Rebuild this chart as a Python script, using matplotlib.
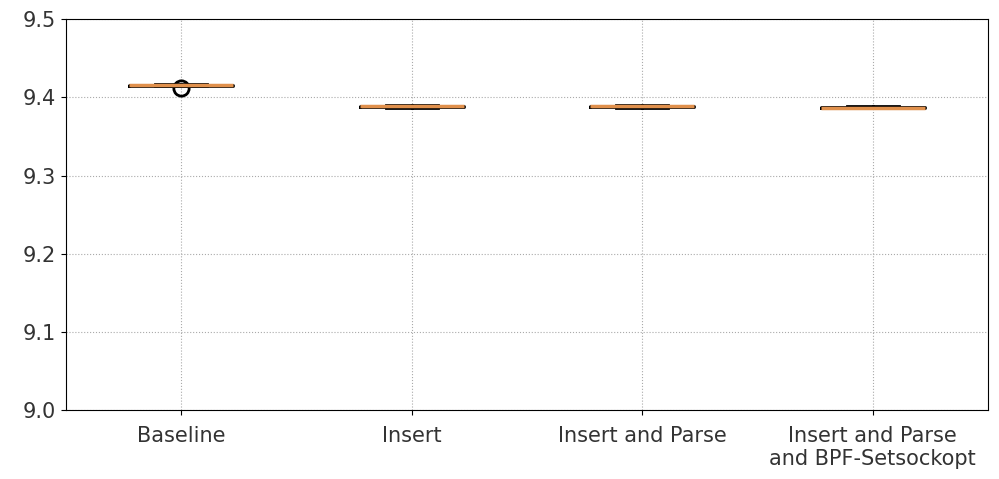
import matplotlib
matplotlib.use("Agg")
import matplotlib.pyplot as plt

labels = ["Baseline", "Insert", "Insert and Parse", "Insert and Parse\nand BPF-Setsockopt"]

baseline = [9.4140, 9.4150, 9.4158, 9.4162, 9.4165, 9.4168, 9.4115]
insert = [9.3860, 9.3875, 9.3885, 9.3890, 9.3893, 9.3896]
insert_parse = [9.3860, 9.3875, 9.3885, 9.3890, 9.3893, 9.3896]
insert_parse_bpf = [9.3860, 9.3862, 9.3864, 9.3865, 9.3868, 9.3878, 9.3886]

data = [baseline, insert, insert_parse, insert_parse_bpf]

fig = plt.figure(figsize=(9.99, 4.79), dpi=100)
ax = fig.add_axes([0.066, 0.144, 0.923, 0.816])

ax.boxplot(data, widths=0.45,
           boxprops=dict(linewidth=2),
           whiskerprops=dict(linewidth=2),
           capprops=dict(linewidth=2),
           medianprops=dict(linewidth=2.5, color="#e0904c"),
           flierprops=dict(marker="o", markersize=11, markeredgewidth=2,
                           markerfacecolor="none", markeredgecolor="black"))

ax.set_xticks([1, 2, 3, 4])
ax.set_xticklabels(labels, fontsize=15, color="#333333")
ax.set_ylim(9.0, 9.5)
ax.set_yticks([9.0, 9.1, 9.2, 9.3, 9.4, 9.5])
ax.tick_params(axis="x", pad=8)
ax.tick_params(axis="y", labelsize=15, labelcolor="#333333")
ax.grid(True, linestyle=":", color="#aaaaaa")

fig.savefig("out.png", dpi=100)
